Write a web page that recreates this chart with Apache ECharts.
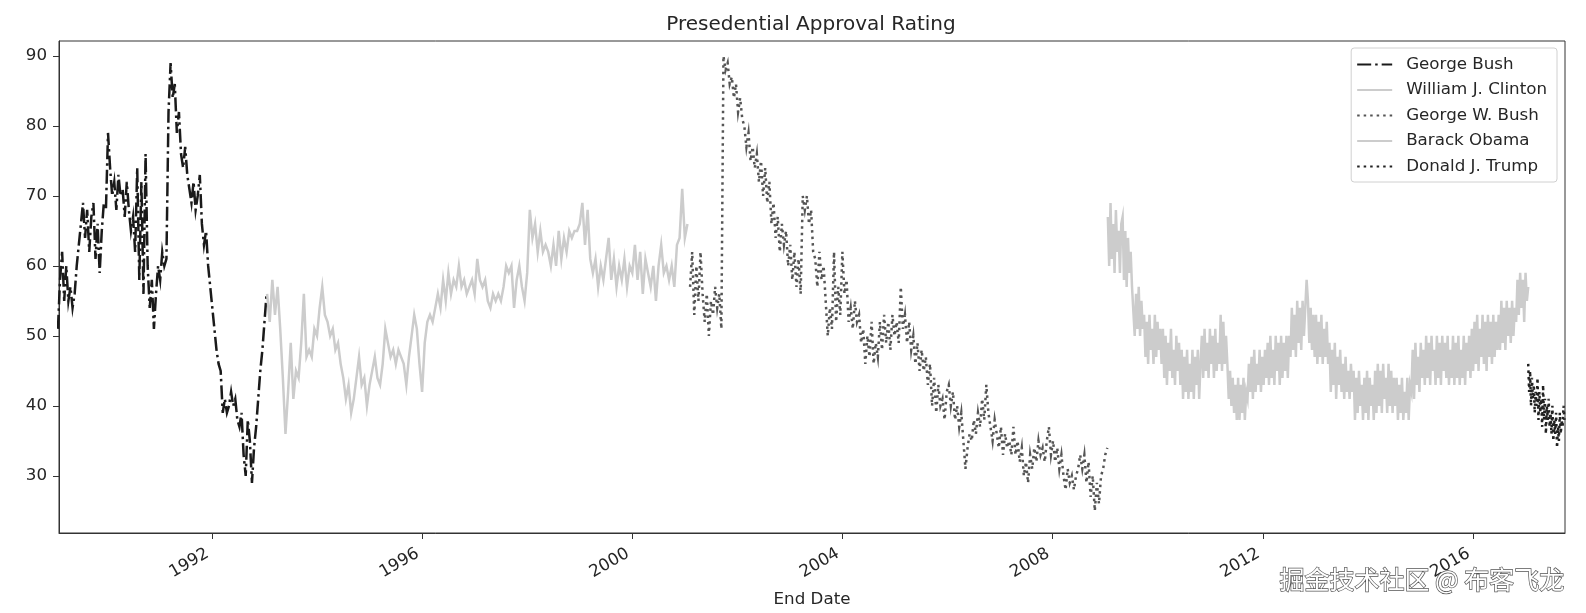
<!DOCTYPE html>
<html>
<head>
<meta charset="utf-8">
<script src="https://cdn.jsdelivr.net/npm/echarts@6/dist/echarts.min.js"></script>
<style>html,body{margin:0;padding:0;background:#fff;}#c{width:1586px;height:613px;}</style>
</head>
<body>
<div id="c"></div>
<script>
// ---- data (decimal years for the x axis, approval % for y) ----
const presidents = ['George Bush', 'William J. Clinton', 'George W. Bush', 'Barack Obama', 'Donald J. Trump'];
const xTickYears = [1992, 1996, 2000, 2004, 2008, 2012, 2016];
const yTickValues = [30, 40, 50, 60, 70, 80, 90];

// poll series sampled evenly between first and last end date
const bushSpan = [1989.07, 1993.04];
const bushValues = [51, 58, 62, 55, 60, 55, 57, 54, 56, 60, 63, 66, 69,
  64, 68, 62, 67, 69, 61, 66, 59, 65, 69, 68, 79,
  74, 70, 72, 68, 73, 70, 71, 67, 72, 68, 65, 67,
  62, 74, 58, 72, 56, 76, 60, 54, 58, 51, 56, 60,
  58, 62, 60, 61, 82, 89, 84, 86, 79, 82, 76, 74, 77, 73,
  71, 69, 72, 68, 70, 73, 66, 63, 65,
  60, 57, 54, 51, 48, 46, 45, 39, 41, 39, 40, 42, 40, 41,
  38, 37, 39, 33, 30, 38, 35, 29, 34, 37, 41, 45, 48, 52, 56];

const clintonSpan = [1993.05, 2001.05];
const clintonValues = [
  56, 52, 58, 53, 57, 51, 44, 36, 42, 49, 41, 45, 44, 49, 56, 47, 48, 47, 51, 50,
  54, 57, 53, 52, 50, 51, 48, 49, 46, 44, 41, 43, 39, 41, 44, 47, 43, 44, 40, 43,
  45, 47, 44, 43, 46, 51, 49, 47, 48, 46, 48, 47, 46, 43, 47, 50, 53, 51, 46, 42,
  49, 52, 53, 52, 54, 56, 54, 58, 55, 59, 56, 58, 57, 60, 57, 58, 56, 57, 58, 56,
  61, 58, 57, 58, 55, 54, 56, 55, 56, 55, 57, 60, 59, 60, 54, 58, 60, 57, 55, 59,
  68, 64, 66, 62, 65, 62, 63, 62, 60, 63, 60, 65, 61, 64, 62, 65, 64, 65, 65, 66,
  69, 63, 68, 61, 59, 61, 57, 60, 58, 61, 64, 58, 61, 57, 60, 58, 61, 57, 60, 59,
  63, 58, 62, 56, 61, 59, 57, 60, 55, 60, 63, 59, 60, 58, 60, 57, 63, 64, 71, 64, 66];

const gwBushSpan = [2001.10, 2009.04];
const gwBushValues = [
  57, 62, 53, 60, 55, 62, 56, 52, 56, 50, 55, 53, 57, 54, 56, 51,
  90, 88, 89, 86, 87, 84, 86, 82, 84, 81, 80, 77, 79, 75, 77, 74, 76, 72, 75,
  70, 74, 69, 72, 66, 69, 64, 67, 62, 66, 63, 65, 60, 63, 58, 62, 57, 61, 56,
  70, 68, 70, 66, 68, 62, 61, 57, 62, 58, 60, 55, 50, 54, 51, 62, 52, 57, 53, 62, 56,
  58, 52, 54, 51, 55, 52, 53, 49, 51, 46, 50, 47, 52, 46, 49, 47, 52, 48, 53, 49, 52, 48, 53, 50, 52,
  49, 57, 51, 53, 49, 52, 48, 50, 46, 49, 45, 48, 45, 47, 43, 46, 40, 44, 39, 43, 40, 41, 38, 42,
  43, 40, 42, 38, 40, 37, 39, 35, 31, 34, 36, 35, 38, 36, 39, 37, 41, 38, 43, 39, 37, 35, 38, 36, 34,
  37, 33, 36, 34, 35, 33, 37, 33, 35, 32, 34, 30, 32, 29, 33, 31, 34, 32, 35, 33, 34, 32, 35, 37, 33,
  35, 32, 34, 31, 33, 30, 28, 31, 29, 30, 28, 30, 31, 33, 31, 33, 29, 32, 27, 30, 25, 29, 26, 30, 31,
  33, 34];

const obamaSpan = [2009.05, 2017.05];
const obamaValues = [
  67, 60, 69, 61, 66, 59, 68, 62, 65, 59, 66,
  67, 58, 65, 57, 64, 59, 62, 57,
  57, 50, 56, 51, 57, 50, 55, 51,
  53, 47, 52, 46, 53, 48, 51, 46, 53, 47, 52, 48, 51, 46,
  51, 44, 50, 43, 49, 45, 51, 44, 48, 43, 50, 45, 49, 43,
  48, 41, 47, 42, 48, 41, 46, 42, 48, 41, 47, 43, 48, 41, 46,
  50, 44, 51, 45, 49, 44, 51, 46, 50, 44, 51, 45, 49,
  46, 53, 45, 52, 46, 50,
  46, 41, 45, 40, 44, 39, 43, 38, 44, 38, 43, 39, 44, 38, 42,
  41, 46, 42, 47, 41, 48, 42, 46, 43, 48, 42, 47, 43, 48, 44,
  49, 43, 50, 44, 48, 43, 50, 45, 49, 43, 50, 44, 49, 45, 50, 44,
  50, 47, 54, 48, 53, 47, 55, 49, 54, 48, 55, 50, 54, 58, 55, 49, 54, 48, 53,
  47, 53, 46, 52, 47, 53, 46, 51, 47, 52, 46,
  49, 42, 48, 43, 49, 41, 47, 43, 48, 42, 46, 41, 47, 42, 45, 41, 46, 42,
  45, 38, 44, 39, 45, 40, 43, 38, 44, 39, 45, 38, 44, 40, 43, 38, 45,
  39, 46, 40, 45, 39, 46, 41, 44, 39, 46, 40, 45, 39, 44, 40,
  44, 38, 43, 39, 44, 38, 42, 39, 44, 38, 43,
  42, 48, 41, 49, 43, 47, 42, 49, 44, 48,
  43, 50, 44, 49, 43, 50, 45, 48, 43, 50, 44, 49, 43, 50, 45, 49, 44, 50, 43, 48,
  44, 50, 43, 49, 44, 50, 43, 48, 44, 50, 43, 49, 45, 50, 44,
  51, 45, 52, 46, 53, 45, 51, 47, 53, 46, 52, 45, 53, 47, 52, 46, 53, 47, 52, 48, 53,
  48, 55, 49, 54, 48, 55, 50, 54, 49, 55, 50, 54,
  52, 58, 53, 59, 54, 58, 52, 59, 55, 57];

const trumpSpan = [2017.05, 2017.74];
const trumpValues = [46, 42, 45, 40, 44, 41, 43, 39, 42, 40, 44, 38, 42, 39, 41, 37, 43, 38, 41, 36,
  40, 38, 41, 37, 39, 36, 40, 35, 38, 36, 39, 34, 37, 35, 39, 36, 38, 37, 40, 38];

function pairs(span, values) {
  const n = values.length;
  return values.map((v, i) => [span[0] + (span[1] - span[0]) * i / (n - 1), v]);
}

const FONT = 'DejaVu Sans';
const FS = 16.7;
const chart = echarts.init(document.getElementById('c'), null, { renderer: 'canvas' });

function lineSeries(name, data, color, width, type) {
  return {
    name, type: 'line', data, symbol: 'none', showSymbol: false,
    lineStyle: { color, width, type, cap: 'butt', join: 'miter' },
    itemStyle: { color },
    emphasis: { disabled: true }, animation: false, clip: true
  };
}

chart.setOption({
  animation: false,
  backgroundColor: '#fff',
  title: {
    text: 'Presedential Approval Rating',
    left: 806, top: 10, textAlign: 'center',
    textStyle: { fontFamily: FONT, fontSize: 20, fontWeight: 'normal', color: '#262626' }
  },
  grid: { left: 59, right: 21, top: 41, bottom: 79, show: true, borderColor: '#333', borderWidth: 1, backgroundColor: 'transparent' },
  legend: {
    orient: 'vertical', right: 29, top: 48,
    data: presidents,
    itemWidth: 35, itemHeight: 17, itemGap: 8.5,
    padding: [8, 10, 7, 5],
    borderColor: '#d0d0d0', borderWidth: 1, borderRadius: 3,
    backgroundColor: 'rgba(255,255,255,0.8)',
    itemStyle: { color: 'rgba(0,0,0,0)', borderWidth: 0, opacity: 0 },
    textStyle: { fontFamily: FONT, fontSize: FS, lineHeight: 17, color: '#262626', padding: [0, 0, 0, 9] },
    selectedMode: false
  },
  xAxis: {
    type: 'value', min: 1989.09, max: 2017.75,
    name: 'End Date', nameLocation: 'middle', nameGap: 58,
    nameTextStyle: { fontFamily: FONT, fontSize: FS, color: '#262626' },
    axisLine: { lineStyle: { color: '#333', width: 1 } },
    axisTick: { show: true, length: 6, customValues: xTickYears, lineStyle: { color: '#333' } },
    axisLabel: { customValues: xTickYears, rotate: 30, margin: 17, padding: [0, 5, 0, 0], fontFamily: FONT, fontSize: FS, color: '#262626',
      formatter: v => String(Math.round(v)) },
    splitLine: { show: false }
  },
  yAxis: {
    type: 'value', min: 21.83, max: 92.14,
    axisLine: { show: true, lineStyle: { color: '#333', width: 1 } },
    axisTick: { show: true, length: 6, customValues: yTickValues, lineStyle: { color: '#333' } },
    axisLabel: { customValues: yTickValues, margin: 12, fontFamily: FONT, fontSize: FS, color: '#262626' },
    splitLine: { show: false }
  },
  graphic: [{
    type: 'text', right: 21, top: 566,
    style: { text: '掘金技术社区 @ 布客飞龙', font: '25px "Noto Sans CJK SC"', fill: '#ffffff', stroke: '#555555', lineWidth: 1.4 },
    z: 100
  }],
  series: [
    lineSeries(presidents[0], pairs(bushSpan, bushValues), '#1a1a1a', 2.5, [14, 4, 2.5, 4]),
    lineSeries(presidents[1], pairs(clintonSpan, clintonValues), '#cccccc', 2.5, 'solid'),
    lineSeries(presidents[2], pairs(gwBushSpan, gwBushValues), '#555555', 2.5, [2.5, 4]),
    lineSeries(presidents[3], pairs(obamaSpan, obamaValues), '#cccccc', 2.5, 'solid'),
    lineSeries(presidents[4], pairs(trumpSpan, trumpValues), '#222222', 2.5, [2.5, 4])
  ]
});
</script>
</body>
</html>
